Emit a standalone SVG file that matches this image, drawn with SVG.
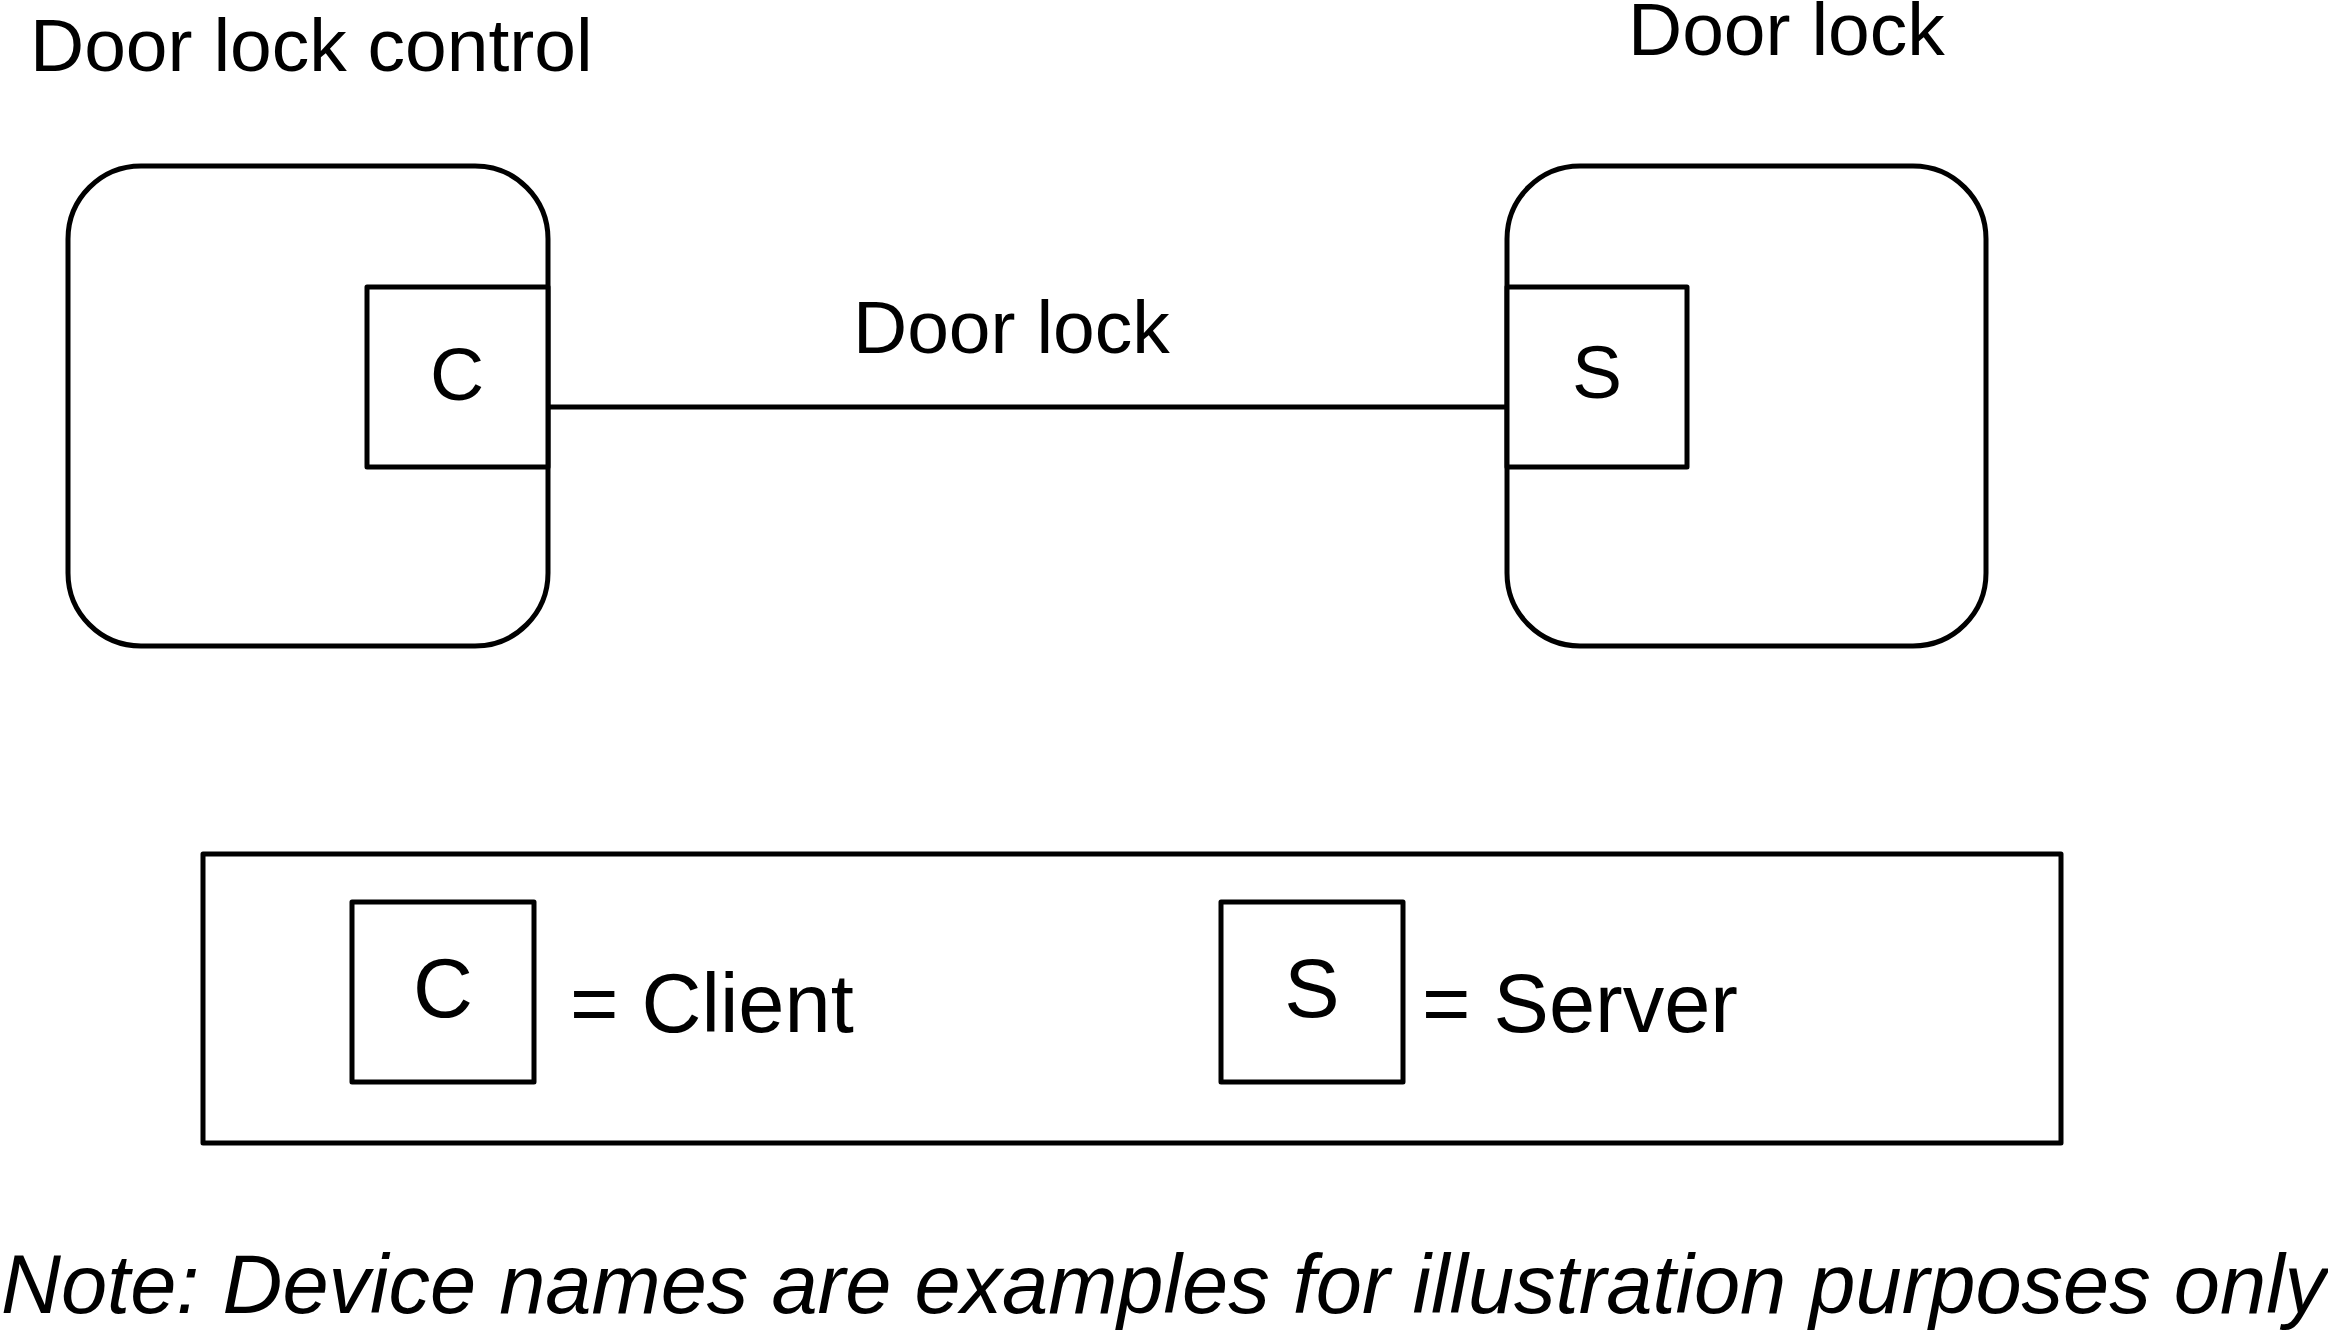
<svg xmlns="http://www.w3.org/2000/svg" width="2328" height="1336" viewBox="0 0 2328 1336">
<style>
.s{fill:none;stroke:#000;stroke-width:5;stroke-linejoin:round}
.w{fill:#fff;stroke:#000;stroke-width:5;stroke-linejoin:round}
text{font-family:"Liberation Sans",Arial,sans-serif;fill:#000}
.t{font-size:75px}
.l{font-size:83px}
.n{font-size:83px;font-style:italic}
</style>
<rect width="2328" height="1336" fill="#fff"/>
<g id="connectors">
<line class="s" x1="548" y1="407" x2="1507" y2="407"/>
<text class="t" x="853" y="353">Door lock</text>
</g>
<g id="door-lock-control">
<text class="t" x="30" y="71">Door lock control</text>
<rect class="w" x="68" y="166" width="480" height="480" rx="73" ry="73"/>
<g id="client-port">
<rect class="w" x="367" y="287" width="181" height="180"/>
<text class="t" x="457" y="400" text-anchor="middle">C</text>
</g>
</g>
<g id="door-lock">
<text class="t" x="1628" y="55">Door lock</text>
<rect class="w" x="1507" y="166" width="479" height="480" rx="73" ry="73"/>
<g id="server-port">
<rect class="w" x="1507" y="287" width="180" height="180"/>
<text class="t" x="1597" y="398" text-anchor="middle">S</text>
</g>
</g>
<g id="legend">
<rect class="s" x="203" y="854" width="1858" height="289"/>
<rect class="s" x="352" y="902" width="182" height="180"/>
<text class="l" x="443" y="1017" text-anchor="middle">C</text>
<text class="l" x="570" y="1032">= Client</text>
<rect class="s" x="1221" y="902" width="182" height="180"/>
<text class="l" x="1312" y="1017" text-anchor="middle">S</text>
<text class="l" x="1422" y="1032">= Server</text>
</g>
<g id="note">
<text class="n" x="1" y="1313">Note: Device names are examples for illustration purposes only</text>
</g>
</svg>
